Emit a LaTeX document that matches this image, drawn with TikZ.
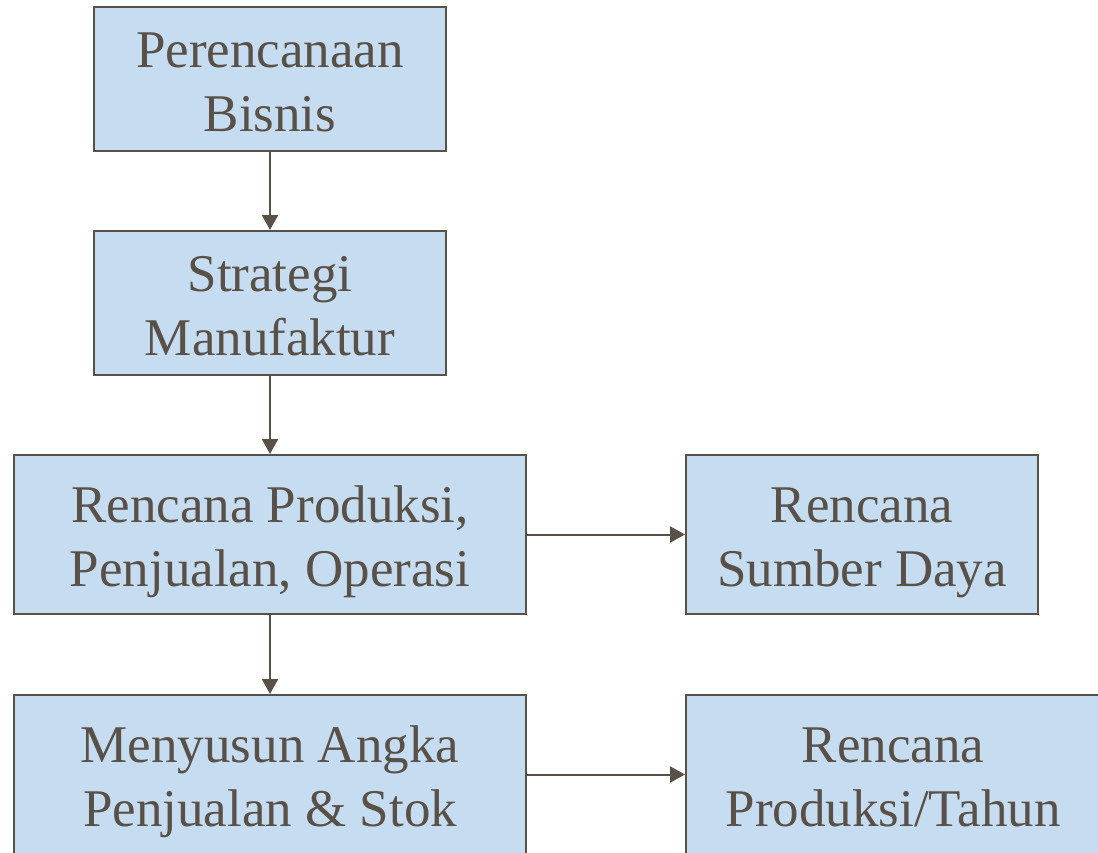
\documentclass[tikz,border=0pt]{standalone}
\usepackage{fontspec}
\setmainfont{Liberation Serif}
\usepackage{xcolor}
\usetikzlibrary{arrows.meta}
\definecolor{boxfill}{HTML}{C6DCF0}
\definecolor{boxline}{HTML}{595048}
\tikzset{
    planbox/.style={draw=boxline, fill=boxfill, line width=2pt, text=boxline,
        align=center, inner sep=0pt, font=\fontsize{53}{64}\selectfont,
        execute at begin node={\rule{0pt}{116pt}},
        execute at end node={\rule[-12pt]{0pt}{12pt}}},
    flow/.style={draw=boxline, line width=2pt, -{Triangle[length=15pt,width=16pt]}}
}
\begin{document}
\begin{tikzpicture}[x=1pt,y=-1pt]
    	\useasboundingbox (0,0) rectangle (1098,852);
    	\clip (0,0) rectangle (1098,852);
        \node [planbox, minimum width=352pt, minimum height=144pt] (bisnis) at (270,79) {Perencanaan\\Bisnis};
        \node [planbox, minimum width=352pt, minimum height=144pt] (strategi) at (270,303) {Strategi\\Manufaktur};
        \node [planbox, minimum width=512pt, minimum height=159pt] (produksi) at (270,534.5) {Rencana Produksi,\\Penjualan, Operasi};
        \node [planbox, minimum width=352pt, minimum height=159pt] (sumber) at (862,534.5) {Rencana\\Sumber Daya};
        \node [planbox, minimum width=512pt, minimum height=159pt] (angka) at (270,774.5) {Menyusun Angka\\Penjualan \& Stok};
        \node [planbox, minimum width=414pt, minimum height=159pt] (tahun) at (893,774.5) {Rencana\\Produksi/Tahun};
        \draw [flow] (bisnis) -- (strategi);
        \draw [flow] (strategi) -- (produksi);
        \draw [flow] (produksi) -- (angka);
        \draw [flow] (produksi) -- (sumber);
        \draw [flow] (angka) -- (tahun);
    \end{tikzpicture}
\end{document}
